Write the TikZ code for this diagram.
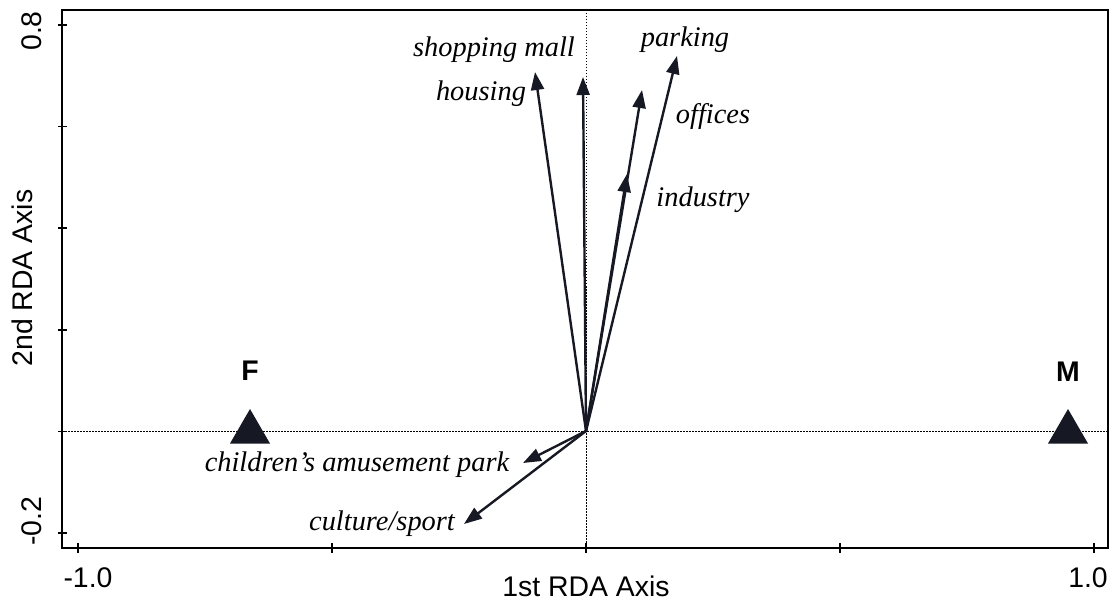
\documentclass[tikz,border=0pt]{standalone}
\usepackage{fontspec}
\setmainfont{Liberation Serif}
\newfontfamily\arialfont{Liberation Sans}
\usetikzlibrary{arrows.meta}
\definecolor{ink}{RGB}{22,24,36}
\begin{document}
\begin{tikzpicture}[x=1pt,y=-1pt,
  frame/.style={line width=2pt,black},
  tick/.style={line width=1.6pt,black},
  guide/.style={line width=1pt,black,dash pattern=on 1.5pt off 1.5pt},
  vec/.style={line width=2.4pt,ink,-{Triangle[length=18pt,width=13pt]}},
  lab/.style={font=\fontsize{28.4}{30}\selectfont\itshape,inner sep=0pt,anchor=center},
  axlab/.style={font=\arialfont\fontsize{28.4}{30}\selectfont,inner sep=0pt,anchor=center},
  grp/.style={font=\arialfont\bfseries\fontsize{28.4}{30}\selectfont,inner sep=0pt,anchor=center},
  tri/.style={fill=ink}]
\useasboundingbox (0,0) rectangle (1113,601);
% guide lines
\coordinate (O) at (586,431);
\coordinate (gl) at (62,431);
\coordinate (gr) at (1108,431);
\coordinate (gt) at (586,10);
\coordinate (gb) at (586,548);
\draw[guide] (gl) -- (gr);
\draw[guide] (gt) -- (gb);
% frame
\draw[frame] (62,10) rectangle (1108,548);
% y ticks
\foreach \y in {25,126.6,228.2,329.8,431.4,533}
  \draw[tick] (58,\y) -- (67,\y);
% x ticks
\foreach \x in {78,332,586,840,1094}
  \draw[tick] (\x,543) -- (\x,553);
% tick labels
\node[axlab,rotate=90] (y08) at (32,31) {0.8};
\node[axlab,rotate=90] (ym02) at (32,521) {-0.2};
\node[axlab] (xm10) at (88,578) {-1.0};
\node[axlab] (x10) at (1088,578) {1.0};
\node[axlab] (xt) at (586,586) {1st RDA Axis};
\node[axlab,rotate=90] (yt) at (22,278) {2nd RDA Axis};
% triangles
\fill[tri] (250,409) -- (270,443.5) -- (230,443.5) -- cycle;
\fill[tri] (1068,409) -- (1088,443.5) -- (1048,443.5) -- cycle;
\node[grp] (F) at (250,371) {F};
\node[grp] (M) at (1068,372) {M};
% vector tips
\coordinate (housing) at (535,72);
\coordinate (mall) at (583,77);
\coordinate (offices) at (642,90);
\coordinate (parking) at (677,56);
\coordinate (industry) at (627,174);
\coordinate (children) at (523,463);
\coordinate (culture) at (464,524);
\draw[vec] (O) -- (housing);
\draw[vec] (O) -- (mall);
\draw[vec] (O) -- (offices);
\draw[vec] (O) -- (industry);
\draw[vec] (O) -- (parking);
\draw[vec] (O) -- (children);
\draw[vec] (O) -- (culture);
% labels
\node[lab] (lmall) at (494,50) {shopping mall};
\node[lab] (lhousing) at (481,94) {housing};
\node[lab] (lparking) at (685,40) {parking};
\node[lab] (loffices) at (713,117) {offices};
\node[lab] (lindustry) at (703,200) {industry};
\node[lab] (lchildren) at (357,465) {children’s amusement park};
\node[lab] (lculture) at (382,524) {culture/sport};
\end{tikzpicture}
\end{document}
